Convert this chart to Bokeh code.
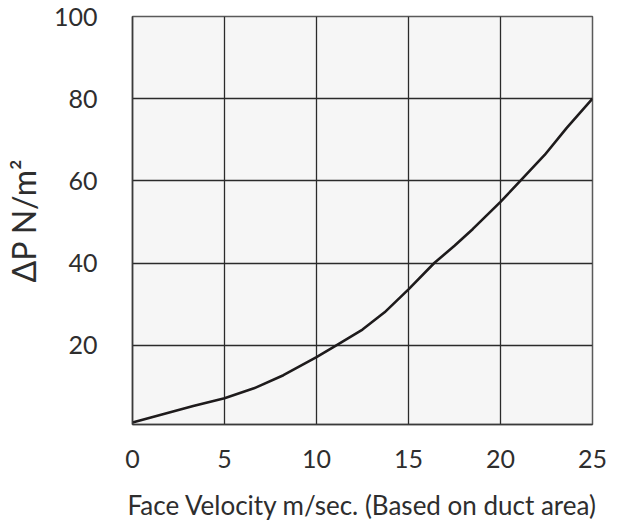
from bokeh.plotting import figure
from bokeh.models import FixedTicker, Range1d
from bokeh.embed import file_html
from bokeh.resources import INLINE

velocity = [0, 1.5, 3.3, 5, 6.6, 8.2, 10, 11.1, 12.5, 13.7, 15, 16.4, 17.5, 18.5, 20, 21.1, 22.4, 23.6, 25]
dp = [1.2, 3.0, 5.2, 7.1, 9.5, 12.7, 17.1, 20, 23.8, 28.0, 33.6, 40, 44.2, 48.3, 54.9, 60.1, 66.3, 72.9, 80]
x_ticks = [0, 5, 10, 15, 20, 25]
y_ticks = [20, 40, 60, 80, 100]

p = figure(width=619, height=524, output_backend="svg", toolbar_location=None,
           x_range=Range1d(0, 25), y_range=Range1d(0.7, 100),
           min_border_left=130, min_border_top=16, min_border_right=27, min_border_bottom=100)
p.background_fill_color = "#f6f6f6"
p.border_fill_color = "white"
p.outline_line_color = "#5a5a5a"
p.outline_line_width = 1.5

p.line(velocity, dp, line_color="#1e1b1c", line_width=2.6, line_join="round")

font = "Lato"
for ax in (p.xaxis[0], p.yaxis[0]):
    ax.major_tick_line_color = None
    ax.minor_tick_line_color = None
    ax.axis_line_color = "#3a3a3a"
    ax.axis_line_width = 1.5
    ax.major_label_text_font = font
    ax.major_label_text_font_size = "25px"
    ax.major_label_text_color = "#2e2e2e"
    ax.axis_label_text_font = font
    ax.axis_label_text_font_style = "normal"
    ax.axis_label_text_color = "#2e2e2e"

p.xaxis.ticker = FixedTicker(ticks=x_ticks)
p.yaxis.ticker = FixedTicker(ticks=y_ticks)
p.xaxis.major_label_standoff = 19
p.yaxis.major_label_standoff = 29
p.xaxis.axis_label = "Face Velocity m/sec. (Based on duct area)"
p.xaxis.axis_label_text_font_size = "26px"
p.xaxis.axis_label_standoff = 18
p.yaxis.axis_label = "ΔP N/m²"
p.yaxis.axis_label_text_font_size = "32px"
p.yaxis.axis_label_standoff = 8

p.xgrid.ticker = FixedTicker(ticks=x_ticks)
p.ygrid.ticker = FixedTicker(ticks=y_ticks)
for g in (p.xgrid[0], p.ygrid[0]):
    g.grid_line_color = "#2b2b2b"
    g.grid_line_width = 1.3

open("out.html", "w").write(file_html(p, INLINE))
